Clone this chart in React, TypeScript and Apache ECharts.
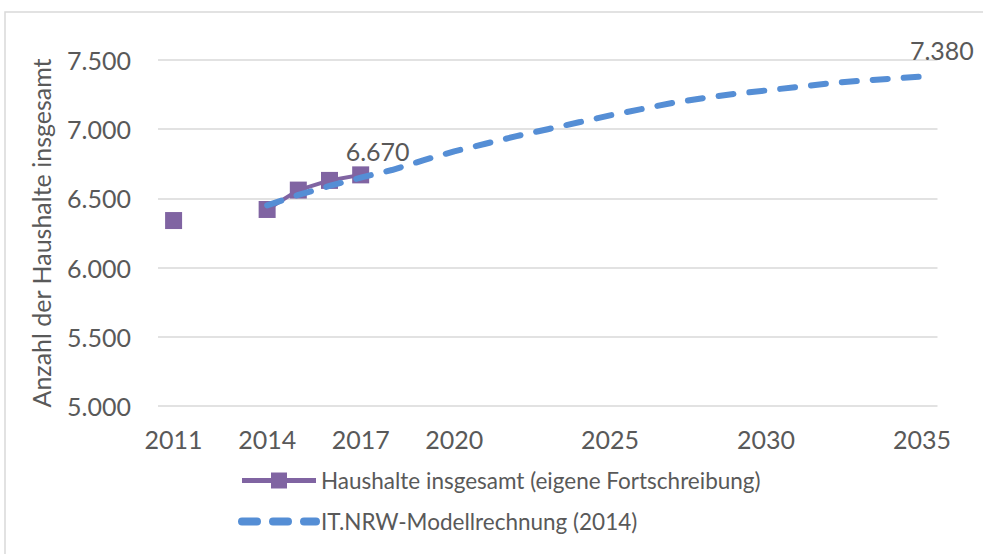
import React, { useEffect, useRef } from 'react';
import * as echarts from 'echarts';

const years: string[] = [
  '2011', '2012', '2013', '2014', '2015', '2016', '2017', '2018', '2019', '2020',
  '2021', '2022', '2023', '2024', '2025', '2026', '2027', '2028', '2029', '2030',
  '2031', '2032', '2033', '2034', '2035',
];
const xTickLabels: string[] = ['2011', '2014', '2017', '2020', '2025', '2030', '2035'];

const haushalte: (number | null)[] = [
  6340, null, null, 6420, 6560, 6630, 6670, null, null, null,
  null, null, null, null, null, null, null, null, null, null,
  null, null, null, null, null,
];
const itnrw: (number | null)[] = [
  null, null, null, 6450, 6525, 6590, 6650, 6705, 6775, 6840,
  6895, 6950, 7000, 7050, 7100, 7145, 7190, 7225, 7255, 7280,
  7305, 7330, 7350, 7365, 7380,
];
const labelledYear = '2017';

const seriesNames = [
  'Haushalte insgesamt (eigene Fortschreibung)',
  'IT.NRW-Modellrechnung (2014)',
];

const fmt = (v: number) => String(Math.round(v)).replace(/\B(?=(\d{3})+(?!\d))/g, '.');

const FONT = 'Lato, "Noto Sans", sans-serif';
const TEXT = '#595959';
const PURPLE = '#8064A2';
const BLUE = '#558ED5';

export default function App() {
  const ref = useRef<HTMLDivElement>(null);
  useEffect(() => {
    if (!ref.current) return;
    const chart = echarts.init(ref.current, null, { renderer: 'svg' });
    const purpleData = haushalte.map((v, i) =>
      years[i] === labelledYear && v != null
        ? {
            value: v,
            label: {
              show: true,
              position: 'top',
              formatter: (p: any) => fmt(p.value),
              fontSize: 25,
              fontFamily: FONT,
              color: TEXT,
              offset: [17, 2],
            },
          }
        : v
    );
    chart.setOption({
      animation: false,
      textStyle: { fontFamily: FONT },
      grid: { left: 158, right: 45.5, top: 60, bottom: 148 },
      graphic: [
        {
          type: 'rect',
          shape: { x: 5, y: 12, width: 1000, height: 600 },
          style: { fill: 'none', stroke: '#d9d9d9', lineWidth: 1.5 },
          silent: true,
        },
      ],
      legend: {
        orient: 'vertical',
        left: 238,
        top: 469,
        padding: 0,
        itemWidth: 74,
        itemHeight: 20,
        itemGap: 18,
        textStyle: { fontSize: 22.5, color: TEXT, fontFamily: FONT },
        data: [
          { name: seriesNames[0], lineStyle: { width: 5 } },
          { name: seriesNames[1], itemStyle: { opacity: 0 }, lineStyle: { width: 8 } },
        ],
      },
      xAxis: {
        type: 'category',
        data: years,
        boundaryGap: true,
        axisLine: { show: false },
        axisTick: { show: false },
        axisLabel: {
          interval: (_i: number, v: string) => xTickLabels.includes(v),
          fontSize: 25,
          color: TEXT,
          fontFamily: FONT,
          margin: 20,
        },
      },
      yAxis: {
        type: 'value',
        min: 5000,
        max: 7500,
        interval: 500,
        name: 'Anzahl der Haushalte insgesamt',
        nameLocation: 'middle',
        nameGap: 105,
        nameTextStyle: { fontSize: 25, color: TEXT, fontFamily: FONT },
        axisLine: { show: false },
        axisTick: { show: false },
        axisLabel: {
          formatter: (v: number) => fmt(v),
          fontSize: 25,
          color: TEXT,
          fontFamily: FONT,
          margin: 27,
        },
        splitLine: { lineStyle: { color: '#d9d9d9', width: 1.5 } },
      },
      series: [
        {
          name: seriesNames[0],
          type: 'line',
          z: 2,
          data: purpleData,
          connectNulls: false,
          symbol: 'rect',
          symbolSize: 17,
          showAllSymbol: true,
          itemStyle: { color: PURPLE },
          lineStyle: { color: PURPLE, width: 4 },
        },
        {
          name: seriesNames[1],
          type: 'line',
          z: 5,
          data: itnrw,
          symbol: 'none',
          itemStyle: { color: BLUE },
          lineStyle: { color: BLUE, width: 6, type: [15, 16], cap: 'round' },
          endLabel: {
            show: true,
            formatter: (p: any) => fmt(p.value),
            fontSize: 25,
            fontFamily: FONT,
            color: TEXT,
            offset: [-20, -27],
          },
        },
      ],
    });
    return () => chart.dispose();
  }, []);
  return (
    <div
      ref={ref}
      style={{ position: 'fixed', left: 0, top: 0, width: 983, height: 554, background: '#fff' }}
    />
  );
}
